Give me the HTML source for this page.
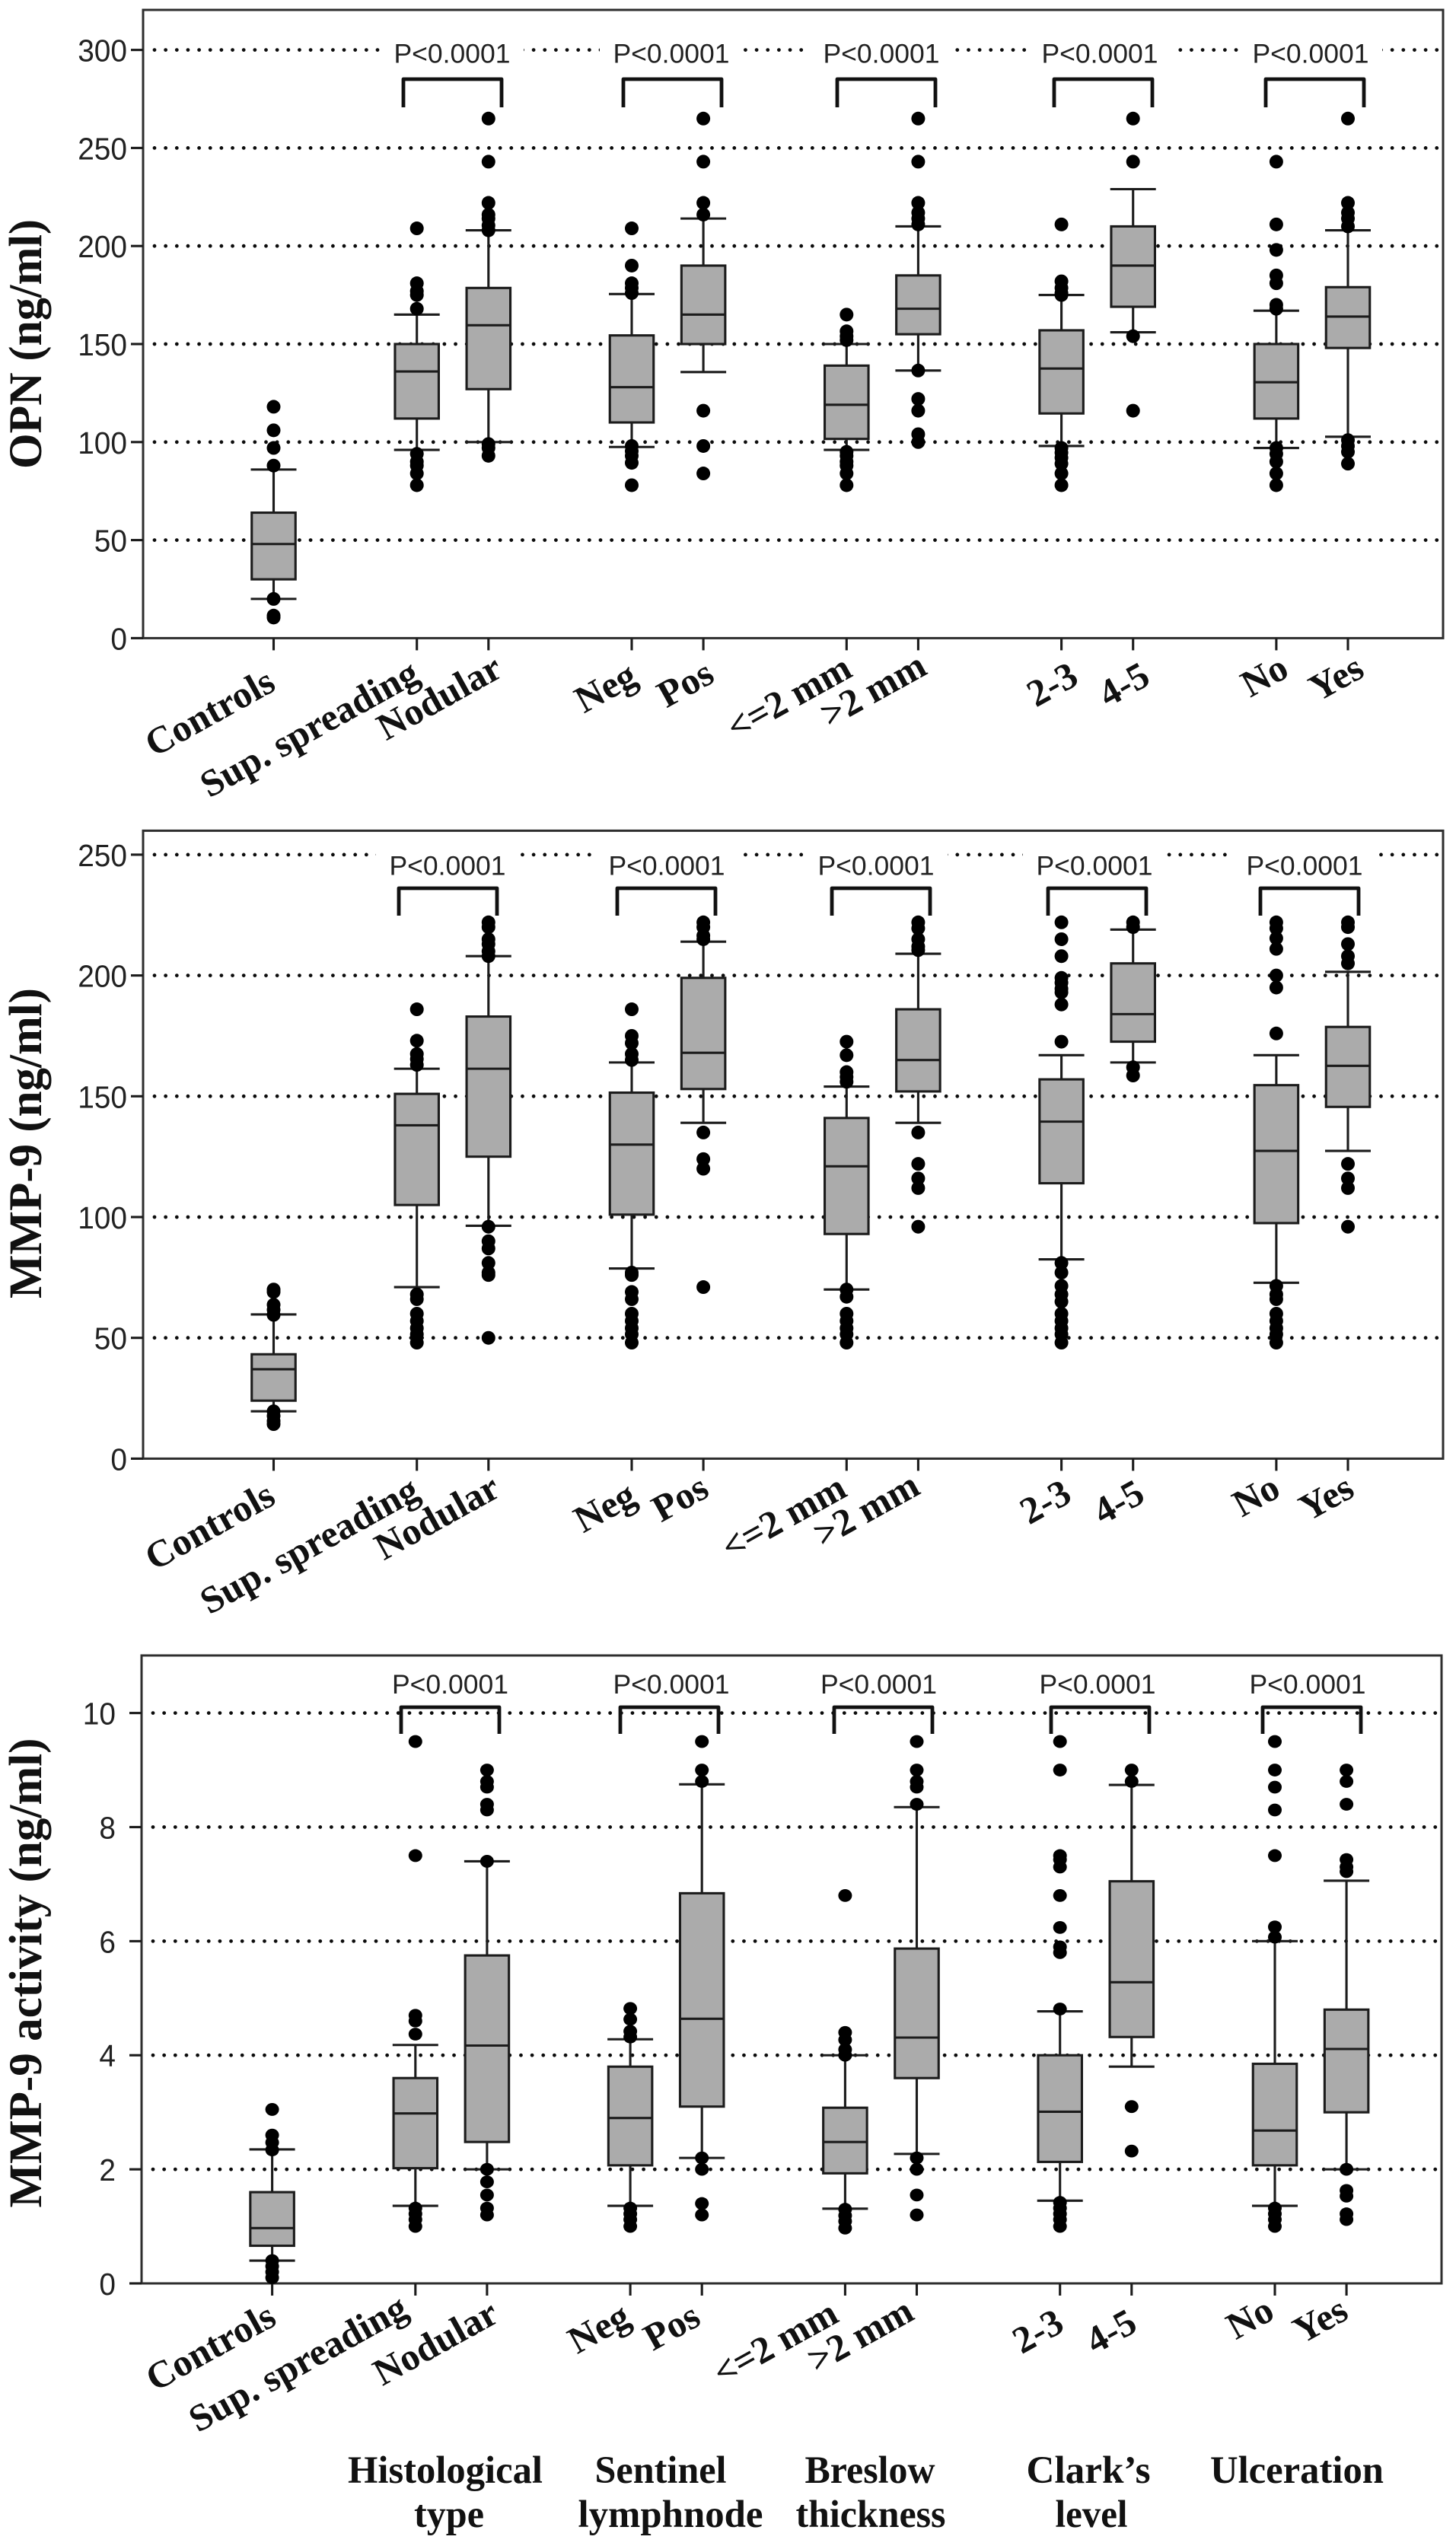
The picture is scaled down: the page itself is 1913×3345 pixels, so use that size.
<!DOCTYPE html>
<html lang="en">
<head>
<meta charset="utf-8">
<title>OPN and MMP-9 box plots</title>
<style>
html,body{margin:0;padding:0;background:#fff;width:1913px;height:3345px;overflow:hidden}
svg{display:block}
.serif{font-family:"Liberation Serif",serif;font-weight:bold;fill:#111}
.sans{font-family:"Liberation Sans",sans-serif;fill:#222}
</style>
</head>
<body>
<svg id="figure" xmlns="http://www.w3.org/2000/svg" width="1913" height="3345" viewBox="0 0 1913 3345"></svg>
<script>
const categories=["Controls","Sup. spreading","Nodular","Neg","Pos","<=2 mm",">2 mm","2-3","4-5","No","Yes"];
const categorySlots=[0,2,3,5,6,8,9,11,12,14,15];
const pValueLabels=["P<0.0001","P<0.0001","P<0.0001","P<0.0001","P<0.0001"];
const groupTitles=[["Histological","type"],["Sentinel","lymphnode"],["Breslow","thickness"],["Clark\u2019s","level"],["Ulceration"]];

const opnTicks=[0,50,100,150,200,250,300];
const opnWhiskerHigh=[86,165,208,175.5,214,150,210,175,229,167,208];
const opnQ3=[64,150,178.6,154.4,190,139,185,157,210,150,179];
const opnMedian=[48,136,159.6,128,165,119,168,137.5,190,130.5,164];
const opnQ1=[30,112,127,110,150,101.6,155,114.6,169,112,148];
const opnWhiskerLow=[20,96,100,97.5,135.7,96,136.5,98,156,97,102.7];
const opnOutliers=[
[118,106,97,88,20,11.5,10.5],
[209,181,177,175,168,94,90,88,84,78],
[265,243,222,216,214,210.5,208,99,97,93],
[209,190,181,178.6,176,98,95.4,93,89.4,78],
[265,243,222,216,116,98,84],
[165,156.5,154,152,95,93,90,88,84,78],
[265,243,222,217,214,211,136.5,122,116,104,100],
[211,182,178.6,176,175,97,94.6,92,89,84,78],
[265,243,154,116],
[243,211,198,185,181,170,168,97,94,90,84,78],
[265,222,217,214,210,101,98,95,89]];

const mmpTicks=[0,50,100,150,200,250];
const mmpWhiskerHigh=[59.7,161.4,208,164,214,154,209,167,219,167,201.5];
const mmpQ3=[43.2,151,183,151.5,199,141,186,157,205,154.6,178.7];
const mmpMedian=[37,138,161.4,130,168,121,165,139.5,184,127.4,162.6];
const mmpQ1=[24,105,125,101,153,93,152,114,172.6,97.5,145.6];
const mmpWhiskerLow=[19.6,71,96.4,78.7,139,70,139,82.5,164,72.8,127.4];
const mmpOutliers=[
[70,69,63.7,61.6,59.5,19.6,17.7,15.6,14.3],
[186,173,167.5,165.4,163,68,66,60,57,54,51.5,48],
[222,220,215,213,210,208,96,90,87,81,77,76,50],
[186,175,172,167.5,165,77,76,69,66,60,57,54,51.5,48],
[222,220,216.5,215,135,124,120,71],
[172.6,167,160,158,156,70,67,60,57,54,51.5,48],
[222,219.5,215,212,210.5,135,122,116,112,96],
[222,215,208,199,197,194.5,193,188,172.6,81,77,71.5,68,65,60,57,54,51.5,48],
[222,220,162,158.6],
[222,219.5,215.4,211,200,195,176,71.5,68,66,60,57,54,51.5,48],
[222,220,213,208,205,122,116,112,96]];

const actTicks=[0,2,4,6,8,10];
const actWhiskerHigh=[2.35,4.18,7.4,4.28,8.75,4,8.35,4.77,8.74,6,7.06];
const actQ3=[1.6,3.6,5.75,3.8,6.84,3.08,5.87,4,7.05,3.85,4.8];
const actMedian=[0.97,2.98,4.17,2.9,4.64,2.48,4.31,3.01,5.28,2.68,4.11];
const actQ1=[0.66,2.02,2.48,2.07,3.1,1.93,3.6,2.13,4.32,2.07,3];
const actWhiskerLow=[0.4,1.36,2,1.36,2.2,1.31,2.27,1.45,3.8,1.36,2];
const actOutliers=[
[3.05,2.6,2.47,2.34,0.4,0.3,0.2,0.1],
[9.5,7.5,4.7,4.6,4.37,1.32,1.22,1.12,1],
[9,8.8,8.7,8.4,8.3,7.4,2,1.78,1.55,1.32,1.2],
[4.82,4.63,4.42,4.32,1.32,1.22,1.12,1],
[9.5,9,8.8,2.2,2,1.4,1.2],
[6.8,4.4,4.27,4.1,4,1.3,1.19,1.09,0.97],
[9.5,9,8.8,8.7,8.4,2.2,2,1.55,1.2],
[9.5,9,7.5,7.43,7.3,6.8,6.24,5.9,5.8,4.81,1.42,1.32,1.22,1.12,1],
[9,8.8,3.1,2.32],
[9.5,9,8.7,8.3,7.5,6.25,6.07,1.32,1.22,1.12,1],
[9,8.8,8.4,7.43,7.3,7.22,2,1.63,1.53,1.22,1.12]];

const SVG_NS="http://www.w3.org/2000/svg";
const root=document.getElementById("figure");
function mk(tag,attrs,parent,text){
  const n=document.createElementNS(SVG_NS,tag);
  for(const k in attrs)n.setAttribute(k,attrs[k]);
  if(text!==undefined)n.textContent=text;
  parent.appendChild(n);
  return n;
}

function drawPanel(p){
  const xOf=s=>p.x0+94.1*s;
  const yOf=v=>p.axisY-(v-0)*p.pxPerUnit;
  const ink="#1c1c1c";
  const sw=3.1;

  const g=mk("g",{},root);
  
  

  const frame=mk("rect",{x:p.left,y:p.top,width:p.right-p.left,height:p.axisY-p.top,fill:"#fff",stroke:"#2e2e2e","stroke-width":3},g);
  
  

  p.ticks.forEach(t=>{
    const y=yOf(t);
    const tick=mk("line",{x1:p.left-16,x2:p.left,y1:y,y2:y,stroke:ink,"stroke-width":sw},g);
    
    
    const lab=mk("text",{x:p.tickLabelX,y:y+15,"text-anchor":"end","font-size":41,class:"sans",textLength:String(t).length*21.6,lengthAdjust:"spacingAndGlyphs"},g,String(t));
    
    
    if(t>0){
      const gl=mk("line",{x1:p.left+15,x2:p.right-8,y1:y,y2:y,stroke:"#0c0c0c","stroke-width":4.8,"stroke-linecap":"round","stroke-dasharray":"0 14.65"},g);
      
      
    }
  });

  const title=mk("text",{transform:"translate("+p.titleX+","+p.titleY+") rotate(-90)","text-anchor":"middle","font-size":61,class:"serif",textLength:p.titleLen,lengthAdjust:"spacingAndGlyphs"},g,p.title);
  
  

  pValueLabels.forEach((txt,i)=>{
    const cx=p.pCenters[i];
    if(p.textGap){
      const bg=mk("rect",{x:cx-94,y:p.pY-24,width:188,height:40,fill:"#fff"},g);
      
      
    }
    const pt=mk("text",{x:cx,y:p.pY+12.5,"text-anchor":"middle","font-size":35.5,class:"sans"},g,txt);
    
    
    const bx=p.bracketLeft[i];
    const br=mk("path",{d:"M"+bx+" "+p.bracketBottom+"V"+p.bracketTop+"H"+(bx+129)+"V"+p.bracketBottom,fill:"none",stroke:"#111","stroke-width":4.8,"stroke-linejoin":"round"},g);
    
    
  });

  categories.forEach((cat,i)=>{
    const cx=xOf(categorySlots[i]);
    const boxW=57.5,capW=60;
    const tk=mk("line",{x1:cx,x2:cx,y1:p.axisY,y2:p.axisY+16,stroke:ink,"stroke-width":sw},g);
    
    

    const lx=cx+p.labelDx[i], ly=p.axisY+p.labelDy[i];
    const lb=mk("text",{transform:"translate("+lx+","+ly+") rotate(-29)","text-anchor":"end","font-size":50,class:"serif"},g,cat);
    
    

    const wh=mk("line",{x1:cx,x2:cx,y1:yOf(p.high[i]),y2:yOf(p.low[i]),stroke:ink,"stroke-width":sw},g);
    
    
    const c1=mk("line",{x1:cx-capW/2,x2:cx+capW/2,y1:yOf(p.high[i]),y2:yOf(p.high[i]),stroke:ink,"stroke-width":sw},g);
    
    
    const c2=mk("line",{x1:cx-capW/2,x2:cx+capW/2,y1:yOf(p.low[i]),y2:yOf(p.low[i]),stroke:ink,"stroke-width":sw},g);
    
    
    const box=mk("rect",{x:cx-boxW/2,y:yOf(p.q3[i]),width:boxW,height:yOf(p.q1[i])-yOf(p.q3[i]),fill:"#ababab",stroke:ink,"stroke-width":sw},g);
    
    
    const md=mk("line",{x1:cx-boxW/2,x2:cx+boxW/2,y1:yOf(p.median[i]),y2:yOf(p.median[i]),stroke:ink,"stroke-width":sw},g);
    
    
    p.outliers[i].forEach(v=>{
      const d=mk("ellipse",{cx:cx,cy:yOf(v),rx:p.dotRx,ry:p.dotRy,fill:"#000"},g);
      
      
    });
  });
}

const opnLayout={name:"opn",title:"OPN (ng/ml)",titleX:54,titleY:452,titleLen:328,left:188,right:1896,top:13,axisY:838.4,pxPerUnit:2.576,x0:359.5,tickLabelX:167,dotRx:9,dotRy:9,textGap:true,
  pCenters:[594,882,1158,1445,1722],pY:70,bracketLeft:[530,819,1100,1385,1663],bracketTop:104,bracketBottom:141,
  labelDx:[5,6,21,10,17,10,14,25,25,19,24],labelDy:[67,56,49,59,56,49,46,59,59,49,49]};
const mmpLayout={name:"mmp9",title:"MMP-9 (ng/ml)",titleX:54,titleY:1502,titleLen:408,left:188,right:1896,top:1091.4,axisY:1916.4,pxPerUnit:3.174,x0:359.5,tickLabelX:167,dotRx:9,dotRy:9,textGap:true,
  pCenters:[588,876,1151,1438,1714],pY:1137,bracketLeft:[524,811,1093,1377,1656],bracketTop:1167,bracketBottom:1203,
  labelDx:[5,6,18,9,10,3,5,16,18,8,11],labelDy:[58,51,48,58,48,48,45,55,55,48,48]};
const actLayout={name:"mmp9-activity",title:"MMP-9 activity (ng/ml)",titleX:54,titleY:2592,titleLen:617,left:186,right:1894,top:2175,axisY:3000,pxPerUnit:74.94,x0:357.6,tickLabelX:152,dotRx:9,dotRy:8.4,textGap:false,
  pCenters:[591.5,882,1154.5,1442,1718],pY:2212.5,bracketLeft:[527,815,1096,1381,1659],bracketTop:2243,bracketBottom:2278,
  labelDx:[8,-7,18,3,1,-6,-1,8,10,2,5],labelDy:[53,42,49,53,53,49,46,61,61,45,45]};

drawPanel(Object.assign({ticks:opnTicks,high:opnWhiskerHigh,q3:opnQ3,median:opnMedian,q1:opnQ1,low:opnWhiskerLow,outliers:opnOutliers},opnLayout));
drawPanel(Object.assign({ticks:mmpTicks,high:mmpWhiskerHigh,q3:mmpQ3,median:mmpMedian,q1:mmpQ1,low:mmpWhiskerLow,outliers:mmpOutliers},mmpLayout));
drawPanel(Object.assign({ticks:actTicks,high:actWhiskerHigh,q3:actQ3,median:actMedian,q1:actQ1,low:actWhiskerLow,outliers:actOutliers},actLayout));

const titleCenters=[585,868,1143,1430,1704];
const titleLine1Len=[256,173,171,163,228];
const titleLine2Len=[92,243,197,95,0];
const titleLine2Centers=[590,881,1144,1434,0];
groupTitles.forEach((lines,i)=>{
  const t1=mk("text",{x:titleCenters[i],y:3262,"text-anchor":"middle","font-size":51,class:"serif",textLength:titleLine1Len[i],lengthAdjust:"spacingAndGlyphs"},root,lines[0]);
  
  
  if(lines[1]){
    const t2=mk("text",{x:titleLine2Centers[i],y:3320,"text-anchor":"middle","font-size":51,class:"serif",textLength:titleLine2Len[i],lengthAdjust:"spacingAndGlyphs"},root,lines[1]);
    
    
  }
});
</script>
</body>
</html>
